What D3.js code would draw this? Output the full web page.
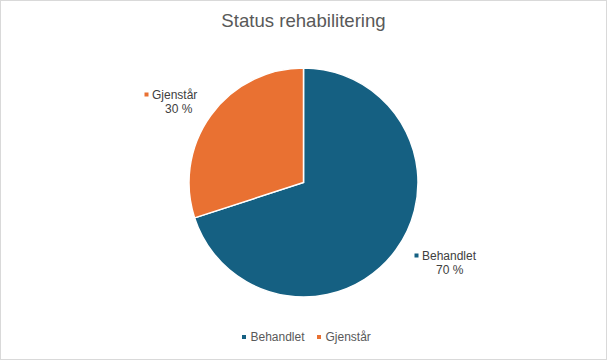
<!DOCTYPE html>
<html lang="no">
<head>
<meta charset="utf-8">
<title>Status rehabilitering</title>
<script src="https://cdn.jsdelivr.net/npm/d3@7"></script>
<style>
  body { margin: 0; background: #fff; }
  text { font-family: "Liberation Sans", Arial, sans-serif; }
</style>
</head>
<body>
<script>
  var categories = ["Behandlet", "Gjenstår"];
  var values = [70, 30];
  var colors = ["#156082", "#E97132"];
  var title = "Status rehabilitering";

  var w = 607, h = 360;
  var cx = 303.5, cy = 182.5, r = 114.5;

  var svg = d3.select("body").append("svg")
    .attr("width", w)
    .attr("height", h);

  svg.append("rect")
    .attr("x", 0.5).attr("y", 0.5)
    .attr("width", w - 1).attr("height", h - 1)
    .attr("fill", "#fff")
    .attr("stroke", "#d9d9d9");

  svg.append("text")
    .attr("x", w / 2).attr("y", 27)
    .attr("text-anchor", "middle")
    .attr("font-size", "18.6px")
    .attr("fill", "#595959")
    .text(title);

  var data = categories.map(function(c, i) { return {name: c, value: values[i], color: colors[i]}; });

  var pie = d3.pie().sort(null).value(function(d) { return d.value; });
  var arc = d3.arc().innerRadius(0).outerRadius(r);
  var arcs = pie(data);

  var g = svg.append("g").attr("transform", "translate(" + cx + "," + cy + ")");

  g.selectAll("path")
    .data(arcs)
    .enter()
    .append("path")
    .attr("d", arc)
    .attr("fill", function(d) { return d.data.color; })
    .attr("stroke", "#fff")
    .attr("stroke-width", 1.5);

  // data labels outside the slices: [name x, value x, baseline]
  var labelPos = [[422, 436, 260], [152, 165, 99]];
  var lab = svg.selectAll("g.lab")
    .data(arcs)
    .enter()
    .append("g")
    .attr("class", "lab");

  lab.append("rect")
    .attr("x", function(d, i) { return labelPos[i][0] - 7.5; })
    .attr("y", function(d, i) { return labelPos[i][2] - 6.5; })
    .attr("width", 4).attr("height", 4)
    .attr("fill", function(d) { return d.data.color; });

  lab.append("text")
    .attr("x", function(d, i) { return labelPos[i][0]; })
    .attr("y", function(d, i) { return labelPos[i][2]; })
    .attr("font-size", "12px")
    .attr("fill", "#404040")
    .text(function(d) { return d.data.name; });

  lab.append("text")
    .attr("x", function(d, i) { return labelPos[i][1]; })
    .attr("y", function(d, i) { return labelPos[i][2] + 14; })
    .attr("font-size", "12px")
    .attr("fill", "#404040")
    .text(function(d) { return d.data.value + " %"; });

  // legend
  var legX = [242, 317];
  var leg = svg.selectAll("g.leg")
    .data(data)
    .enter()
    .append("g")
    .attr("class", "leg")
    .attr("transform", function(d, i) { return "translate(" + legX[i] + ",341)"; });

  leg.append("rect")
    .attr("x", 0).attr("y", -6)
    .attr("width", 4).attr("height", 4)
    .attr("fill", function(d) { return d.color; });

  leg.append("text")
    .attr("x", 8.5).attr("y", 0)
    .attr("font-size", "12px")
    .attr("fill", "#595959")
    .text(function(d) { return d.name; });
</script>
</body>
</html>
